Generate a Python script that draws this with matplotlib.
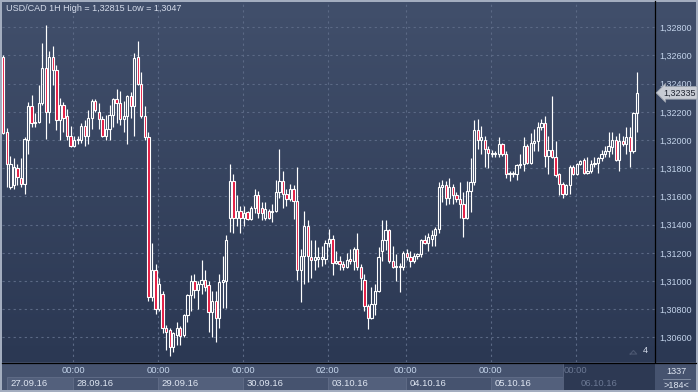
import matplotlib
matplotlib.use("Agg")
import matplotlib.pyplot as plt
import matplotlib.transforms as mtransforms
import numpy as np
from matplotlib.patches import Rectangle
from matplotlib.colors import LinearSegmentedColormap

plt.rcParams['font.family'] = ['Liberation Sans', 'DejaVu Sans']

# USD/CAD hourly candles, 27.09.16 - 06.10.16
opens = [
    1.3259, 1.3206, 1.3167, 1.3168, 1.3180, 1.3173, 1.3169, 1.3200, 1.3224, 1.3212,
    1.3213, 1.3226, 1.3251, 1.3220, 1.3259, 1.3250, 1.3214, 1.3225, 1.3217, 1.3203,
    1.3196, 1.3200, 1.3200, 1.3210, 1.3203, 1.3216, 1.3228, 1.3220, 1.3215, 1.3203,
    1.3208, 1.3218, 1.3229, 1.3226, 1.3215, 1.3217, 1.3231, 1.3224, 1.3259, 1.3240,
    1.3217, 1.3202, 1.3089, 1.3108, 1.3080, 1.3091, 1.3067, 1.3065, 1.3053, 1.3062,
    1.3067, 1.3062, 1.3076, 1.3090, 1.3100, 1.3094, 1.3098, 1.3101, 1.3097, 1.3078,
    1.3086, 1.3074, 1.3099, 1.3100, 1.3145, 1.3171, 1.3145, 1.3150, 1.3145, 1.3149,
    1.3144, 1.3152, 1.3161, 1.3152, 1.3145, 1.3150, 1.3149, 1.3150, 1.3163, 1.3171,
    1.3162, 1.3158, 1.3165, 1.3157, 1.3108, 1.3118, 1.3139, 1.3117, 1.3115, 1.3116,
    1.3116, 1.3116, 1.3127, 1.3130, 1.3113, 1.3114, 1.3112, 1.3110, 1.3116, 1.3114,
    1.3123, 1.3110, 1.3101, 1.3082, 1.3074, 1.3084, 1.3093, 1.3121, 1.3129, 1.3136,
    1.3114, 1.3110, 1.3111, 1.3110, 1.3120, 1.3117, 1.3114, 1.3118, 1.3119, 1.3129,
    1.3127, 1.3130, 1.3133, 1.3137, 1.3167, 1.3168, 1.3159, 1.3167, 1.3161, 1.3158,
    1.3155, 1.3145, 1.3164, 1.3170, 1.3207, 1.3200, 1.3200, 1.3194, 1.3190, 1.3190,
    1.3190, 1.3197, 1.3190, 1.3176, 1.3176, 1.3176, 1.3182, 1.3183, 1.3196, 1.3184,
    1.3198, 1.3199, 1.3209, 1.3212, 1.3189, 1.3193, 1.3188, 1.3176, 1.3169, 1.3162,
    1.3168, 1.3181, 1.3176, 1.3183, 1.3186, 1.3177, 1.3178, 1.3183, 1.3184, 1.3187,
    1.3190, 1.3192, 1.3195, 1.3200, 1.3186, 1.3199, 1.3197, 1.3202, 1.3192, 1.3219,
]
highs = [
    1.3260, 1.32085, 1.3189, 1.3187, 1.3183, 1.3187, 1.3202, 1.3227, 1.3232, 1.3219,
    1.3239, 1.3269, 1.32815, 1.3263, 1.3267, 1.3253, 1.3230, 1.3227, 1.3222, 1.3210,
    1.3203, 1.3203, 1.3212, 1.3214, 1.3221, 1.3229, 1.3229, 1.3226, 1.3217, 1.3218,
    1.3225, 1.3230, 1.3236, 1.3235, 1.3228, 1.3232, 1.3234, 1.3262, 1.3270, 1.3248,
    1.3224, 1.3206, 1.3127, 1.3112, 1.3102, 1.3093, 1.3069, 1.3067, 1.3064, 1.3071,
    1.3068, 1.3077, 1.3091, 1.3104, 1.3105, 1.3100, 1.3115, 1.3108, 1.3100, 1.3093,
    1.3093, 1.3105, 1.3118, 1.3133, 1.3183, 1.3176, 1.3161, 1.3153, 1.3153, 1.3150,
    1.3153, 1.3165, 1.3164, 1.3156, 1.3156, 1.3151, 1.3155, 1.3172, 1.3194, 1.3178,
    1.3165, 1.3169, 1.3168, 1.3181, 1.3123, 1.3150, 1.3143, 1.3129, 1.3129, 1.3124,
    1.3125, 1.3129, 1.3137, 1.3133, 1.3121, 1.3118, 1.3114, 1.3120, 1.3123, 1.3124,
    1.3134, 1.3112, 1.3105, 1.3084, 1.3096, 1.3098, 1.3124, 1.3143, 1.3143, 1.3137,
    1.3125, 1.3119, 1.3113, 1.3121, 1.3123, 1.3121, 1.3120, 1.3120, 1.3130, 1.3133,
    1.3134, 1.3136, 1.3138, 1.3170, 1.3172, 1.3171, 1.3173, 1.3169, 1.3163, 1.3170,
    1.3163, 1.3171, 1.3187, 1.3214, 1.3215, 1.3210, 1.3203, 1.3196, 1.3193, 1.3192,
    1.3202, 1.3198, 1.3192, 1.3178, 1.3178, 1.3183, 1.3190, 1.3202, 1.3197, 1.3205,
    1.3208, 1.3213, 1.3215, 1.3217, 1.3203, 1.3231, 1.3199, 1.3177, 1.3170, 1.3169,
    1.3182, 1.3182, 1.3184, 1.3186, 1.3187, 1.3188, 1.3186, 1.3188, 1.3188, 1.3193,
    1.3196, 1.3206, 1.3206, 1.3203, 1.3205, 1.3203, 1.3209, 1.3209, 1.3220, 1.3248,
]
lows = [
    1.3204, 1.31665, 1.3165, 1.3165, 1.3168, 1.3167, 1.3162, 1.3190, 1.32095, 1.3209,
    1.3212, 1.3225, 1.3201, 1.3212, 1.3239, 1.3207, 1.3200, 1.3206, 1.3200, 1.3195,
    1.3195, 1.3197, 1.3198, 1.3196, 1.3197, 1.3208, 1.3220, 1.3208, 1.3202, 1.3200,
    1.3200, 1.3209, 1.3212, 1.3211, 1.3206, 1.3197, 1.3216, 1.3203, 1.3239, 1.3216,
    1.3200, 1.3086, 1.3086, 1.3077, 1.3079, 1.3063, 1.3051, 1.3047, 1.3050, 1.3055,
    1.3055, 1.3060, 1.3071, 1.3079, 1.3088, 1.3080, 1.3091, 1.3093, 1.3064, 1.3060,
    1.3057, 1.3067, 1.3081, 1.3081, 1.3135, 1.3134, 1.3139, 1.3134, 1.3139, 1.3143,
    1.3143, 1.3148, 1.3145, 1.3143, 1.3143, 1.3144, 1.3142, 1.3149, 1.3159, 1.3152,
    1.3153, 1.3157, 1.3144, 1.3101, 1.3085, 1.3098, 1.3099, 1.3102, 1.3108, 1.3110,
    1.3111, 1.3112, 1.3124, 1.3104, 1.3112, 1.3108, 1.3108, 1.3109, 1.3112, 1.3108,
    1.3108, 1.3094, 1.3079, 1.3066, 1.3073, 1.3076, 1.3092, 1.3114, 1.3122, 1.3113,
    1.3109, 1.3100, 1.3092, 1.3108, 1.3115, 1.3110, 1.3113, 1.3116, 1.3117, 1.3126,
    1.3121, 1.3125, 1.3125, 1.3134, 1.3156, 1.3154, 1.3155, 1.3155, 1.3156, 1.3145,
    1.3131, 1.3144, 1.3149, 1.3168, 1.3194, 1.3190, 1.3181, 1.3180, 1.3188, 1.3188,
    1.3188, 1.3189, 1.3173, 1.3171, 1.3174, 1.3172, 1.3180, 1.3178, 1.3183, 1.3183,
    1.3192, 1.3192, 1.3207, 1.3181, 1.3176, 1.3187, 1.3174, 1.3161, 1.3159, 1.3161,
    1.3162, 1.3175, 1.3175, 1.3182, 1.3176, 1.3176, 1.3177, 1.3181, 1.3177, 1.3185,
    1.3188, 1.3188, 1.3190, 1.3185, 1.3178, 1.3196, 1.3190, 1.3181, 1.3191, 1.3206,
]
closes = [
    1.3205, 1.3183, 1.3183, 1.3181, 1.3174, 1.3169, 1.3201, 1.3224, 1.3212, 1.3213,
    1.3226, 1.3251, 1.3220, 1.3259, 1.3250, 1.3214, 1.3225, 1.3216, 1.3203, 1.3196,
    1.3200, 1.3201, 1.3210, 1.3203, 1.3216, 1.3228, 1.3221, 1.3215, 1.3203, 1.3208,
    1.3218, 1.3229, 1.3226, 1.3215, 1.3217, 1.3231, 1.3224, 1.3258, 1.3240, 1.3217,
    1.3202, 1.3089, 1.3108, 1.3080, 1.3098, 1.3067, 1.3064, 1.3053, 1.3063, 1.3067,
    1.3061, 1.3076, 1.3090, 1.3100, 1.3094, 1.3098, 1.3101, 1.3096, 1.3078, 1.3086,
    1.3074, 1.3099, 1.3101, 1.3129, 1.3171, 1.3145, 1.3150, 1.3145, 1.3148, 1.3144,
    1.3152, 1.3161, 1.3148, 1.3148, 1.3151, 1.3145, 1.3150, 1.3163, 1.3171, 1.3162,
    1.3158, 1.3165, 1.3157, 1.3108, 1.3118, 1.3139, 1.3118, 1.3115, 1.3117, 1.3117,
    1.3117, 1.3127, 1.3130, 1.3113, 1.3114, 1.3112, 1.3110, 1.3115, 1.3114, 1.3123,
    1.3110, 1.3102, 1.3082, 1.3074, 1.3084, 1.3093, 1.3117, 1.3129, 1.3136, 1.3114,
    1.3110, 1.3111, 1.3110, 1.3120, 1.3117, 1.3114, 1.3118, 1.3119, 1.3129, 1.3127,
    1.3131, 1.3133, 1.3137, 1.3167, 1.3168, 1.3159, 1.3167, 1.3161, 1.3158, 1.3155,
    1.3145, 1.3164, 1.3170, 1.3207, 1.3200, 1.3202, 1.3194, 1.3191, 1.3191, 1.3191,
    1.3197, 1.3190, 1.3176, 1.3177, 1.3177, 1.3182, 1.3183, 1.3196, 1.3184, 1.3198,
    1.3199, 1.3209, 1.3212, 1.3189, 1.3193, 1.3188, 1.3175, 1.3169, 1.3162, 1.3168,
    1.3181, 1.3176, 1.3183, 1.3185, 1.3177, 1.3178, 1.3183, 1.3184, 1.3187, 1.3190,
    1.3192, 1.3196, 1.3200, 1.3186, 1.3199, 1.3197, 1.3202, 1.3192, 1.3219, 1.32335,
]

price_ticks = [1.306, 1.308, 1.310, 1.312, 1.314, 1.316, 1.318, 1.320, 1.322, 1.324, 1.326, 1.328]
day_bars = [20, 44, 68, 92, 114, 138, 162]          # candle index of each session start
time_labels = ["00:00", "00:00", "00:00", "02:00", "00:00", "00:00", "00:00"]
date_labels = ["27.09.16", "28.09.16", "29.09.16", "30.09.16",
               "03.10.16", "04.10.16", "05.10.16", "06.10.16"]
title = "USD/CAD 1H High = 1,32815 Low = 1,3047"

W, H = 698, 392
fig = plt.figure(figsize=(W / 100, H / 100), dpi=100)
fig.patch.set_facecolor("#a3adbf")


def fx(px):
    return px / W


def fy(py):
    return 1 - py / H


# bottom band behind everything
band = Rectangle((fx(2), fy(390)), fx(694), 28 / H, transform=fig.transFigure,
                 fc="#46536f", ec="none", zorder=-5)
fig.add_artist(band)

# gradient backdrop for chart + price scale
bg = fig.add_axes([fx(2), fy(362), fx(694), 360 / H])
grad = np.linspace(0, 1, 256).reshape(-1, 1)
cmap = LinearSegmentedColormap.from_list("bg", ["#2b3853", "#414f6b"])
bg.imshow(grad, cmap=cmap, aspect="auto", origin="lower", extent=[0, 1, 0, 1])
bg.set_axis_off()

ax = fig.add_axes([fx(2), fy(362), fx(653), 361 / H])
ax.set_facecolor("none")
o = np.array(opens); h = np.array(highs); l = np.array(lows); c = np.array(closes)
x = np.arange(len(o))
top = np.maximum(o, c)
bot = np.minimum(o, c)
ax.vlines(x, top, h, color="white", lw=0.85, zorder=3)
ax.vlines(x, l, bot, color="white", lw=0.85, zorder=3)
face = ["#e3173f" if cc < oo else "none" for oo, cc in zip(o, c)]
ax.bar(x, top - bot, bottom=bot, width=0.64, color=face, edgecolor="white",
       linewidth=0.8, zorder=4)

ax.set_xlim(-0.37, 184.1)
ax.set_ylim(1.30426, 1.329865)
for p in price_ticks:
    ax.axhline(p, color="#5b6985", lw=0.8, dashes=(2, 3), zorder=1)
for d in day_bars:
    ax.axvline(d - 0.3, color="#5b6985", lw=0.8, dashes=(2, 3), zorder=1)

ax.yaxis.tick_right()
ax.set_yticks(price_ticks)
ax.set_yticklabels([f"{p:.5f}".replace(".", ",") for p in price_ticks])
ax.tick_params(axis="y", length=0, pad=3, labelsize=6.5, labelcolor="#c3d3ea")
ax.set_xticks([])
for s in ["top", "left", "bottom"]:
    ax.spines[s].set_visible(False)
ax.spines["right"].set_color("black")
ax.spines["right"].set_linewidth(0.9)

ax.text(fx(4) / fx(653), 0.978, title, transform=ax.transAxes, fontsize=6.5,
        color="#d5dceb", va="center", ha="left")

# last price tag
tr = mtransforms.blended_transform_factory(ax.transAxes, ax.transData)
ax.text(1 + 8 / 653, closes[-1], f"{closes[-1]:.5f}".replace(".", ","), transform=tr,
        fontsize=6.5, color="#1e2330", va="center", ha="left", zorder=6,
        bbox=dict(boxstyle="larrow,pad=0.2", fc="#c8ccd4", ec="#9aa1ad", lw=0.6))

ax.text(0.985, 0.02, "4", transform=ax.transAxes, fontsize=6.6, color="#d5dceb",
        ha="center", va="bottom")
ax.plot([0.962, 0.972, 0.967, 0.962], [0.022, 0.022, 0.032, 0.022], transform=ax.transAxes,
        color="#4a5670", lw=0.8)

# bottom time scale
fig.add_artist(plt.Line2D([fx(2), fx(696)], [fy(362.5), fy(362.5)], color="black", lw=0.9))
bax = fig.add_axes([fx(2), fy(390), fx(653), 27.5 / H])
bax.set_facecolor("none")
bax.set_xlim(ax.get_xlim())
bax.set_ylim(0, 27.5)
bax.set_axis_off()
edges = [1] + [d - 0.3 for d in day_bars[:-1]] + [158.1, 184.1]
for k, lab in enumerate(date_labels):
    x0, x1 = edges[k], edges[k + 1]
    if k == len(date_labels) - 1:
        bax.add_patch(Rectangle((x0, 0), x1 - x0, 27.5, fc="#2d3953", ec="#55617c", lw=0.7))
        bax.text(day_bars[-1] + 1.1, 6.5, lab, fontsize=6.8, color="#6b7893",
                 va="center", ha="left")
    else:
        fc = "#53607c" if k % 2 == 0 else "#46536f"
        bax.add_patch(Rectangle((x0, 0.5), x1 - x0, 13, fc=fc, ec="#5f6b86", lw=0.7))
        bax.text(x0 + 1.1, 6.5, lab, fontsize=6.8, color="#dfe6f2", va="center", ha="left")
for k, (d, t) in enumerate(zip(day_bars, time_labels)):
    col = "#6b7893" if k == len(day_bars) - 1 else "#c3d3ea"
    bax.text(d - 0.3, 19.5, t, fontsize=6.8, color=col, va="center", ha="center", zorder=5)

fig.text(fx(676), fy(372), "1337", fontsize=6.6, color="#dfe6f2", ha="center", va="center")
fig.add_artist(plt.Line2D([fx(663), fx(690)], [fy(378.5), fy(378.5)], color="#8a95aa", lw=0.6))
fig.text(fx(676), fy(385), ">184<", fontsize=6.6, color="#dfe6f2", ha="center", va="center")

fig.savefig("out.png", dpi=100, facecolor=fig.get_facecolor())
